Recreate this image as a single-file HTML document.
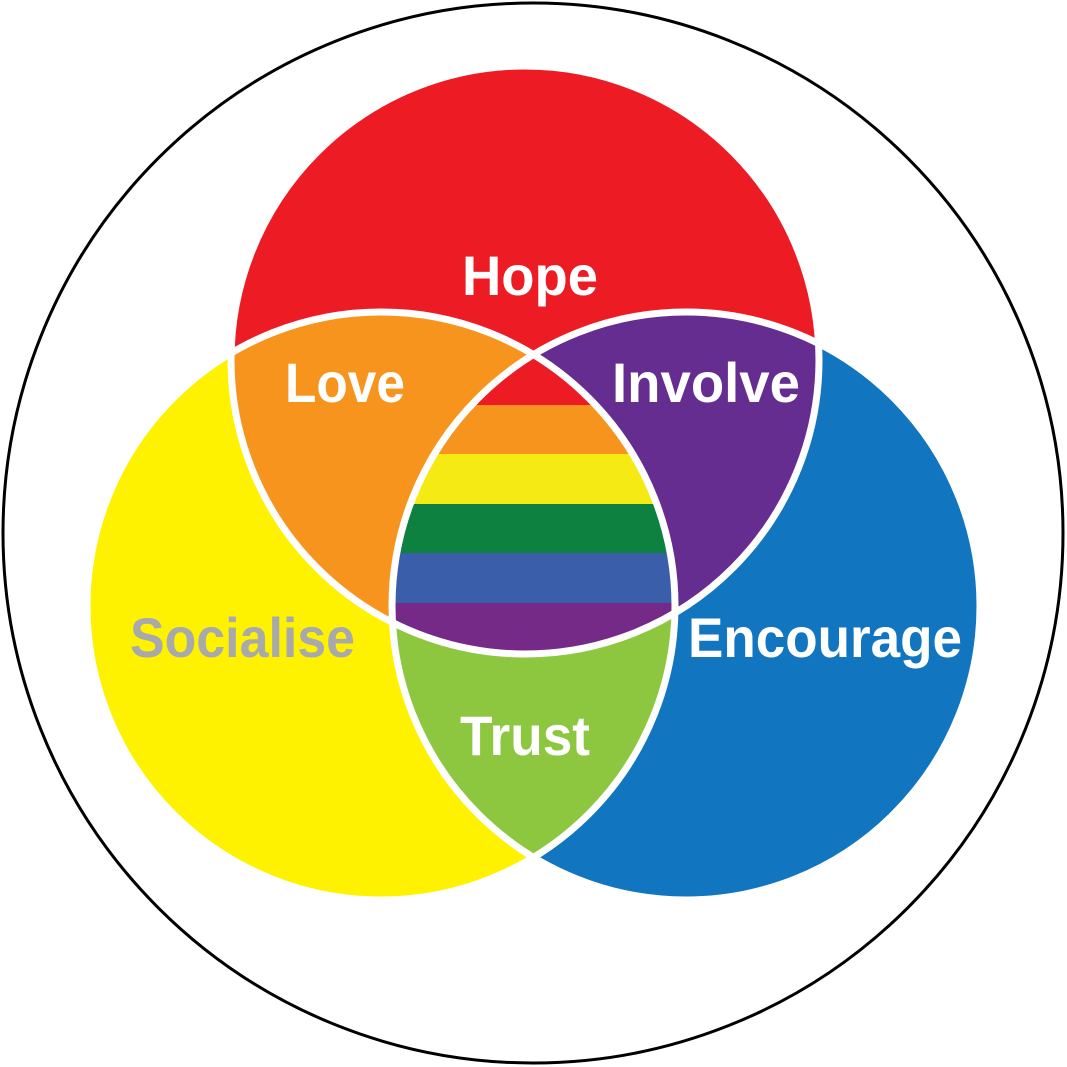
<!DOCTYPE html>
<html><head><meta charset="utf-8"><style>html,body{margin:0;padding:0;background:#fff}svg{display:block}</style></head>
<body>
<svg width="1067" height="1067" viewBox="0 0 1067 1067" xmlns="http://www.w3.org/2000/svg">
<defs>
<clipPath id="cR"><circle cx="525" cy="360" r="294"/></clipPath>
<clipPath id="cY"><circle cx="381" cy="606" r="294"/></clipPath>
<clipPath id="cB"><circle cx="686" cy="606" r="294"/></clipPath>
</defs>
<circle cx="533" cy="533" r="530" fill="#fff" stroke="#000" stroke-width="3"/>
<circle cx="525" cy="360" r="294" fill="#ed1c24"/>
<circle cx="381" cy="606" r="294" fill="#fff200"/>
<circle cx="686" cy="606" r="294" fill="#1175bf"/>
<g clip-path="url(#cR)"><circle cx="381" cy="606" r="294" fill="#f7941d"/><circle cx="686" cy="606" r="294" fill="#662d91"/></g>
<g clip-path="url(#cY)"><circle cx="686" cy="606" r="294" fill="#8dc63f"/></g>
<g clip-path="url(#cR)"><g clip-path="url(#cY)"><g clip-path="url(#cB)">
<rect x="0" y="300" width="1067" height="106" fill="#ed1c24"/>
<rect x="0" y="405" width="1067" height="50" fill="#f7941d"/>
<rect x="0" y="454" width="1067" height="51" fill="#f5ea14"/>
<rect x="0" y="504" width="1067" height="50" fill="#0c8140"/>
<rect x="0" y="553" width="1067" height="51" fill="#3b5eab"/>
<rect x="0" y="603" width="1067" height="60" fill="#762a87"/>
</g></g></g>
<g fill="none" stroke="#fff" stroke-width="7">
<circle cx="525" cy="360" r="294"/>
<circle cx="381" cy="606" r="294"/>
<circle cx="686" cy="606" r="294"/>
</g>
<g font-family="Liberation Sans, sans-serif" font-weight="bold" font-size="56" fill="#fff">
<text x="462" y="295" textLength="136" lengthAdjust="spacingAndGlyphs">Hope</text>
<text x="285" y="402" textLength="120" lengthAdjust="spacingAndGlyphs">Love</text>
<text x="612" y="402" textLength="188" lengthAdjust="spacingAndGlyphs">Involve</text>
<text x="130" y="657" textLength="225" lengthAdjust="spacingAndGlyphs" fill="#a7a9ac">Socialise</text>
<text x="688" y="657" textLength="274" lengthAdjust="spacingAndGlyphs">Encourage</text>
<text x="460" y="755" textLength="130" lengthAdjust="spacingAndGlyphs">Trust</text>
</g>
</svg>
</body></html>
